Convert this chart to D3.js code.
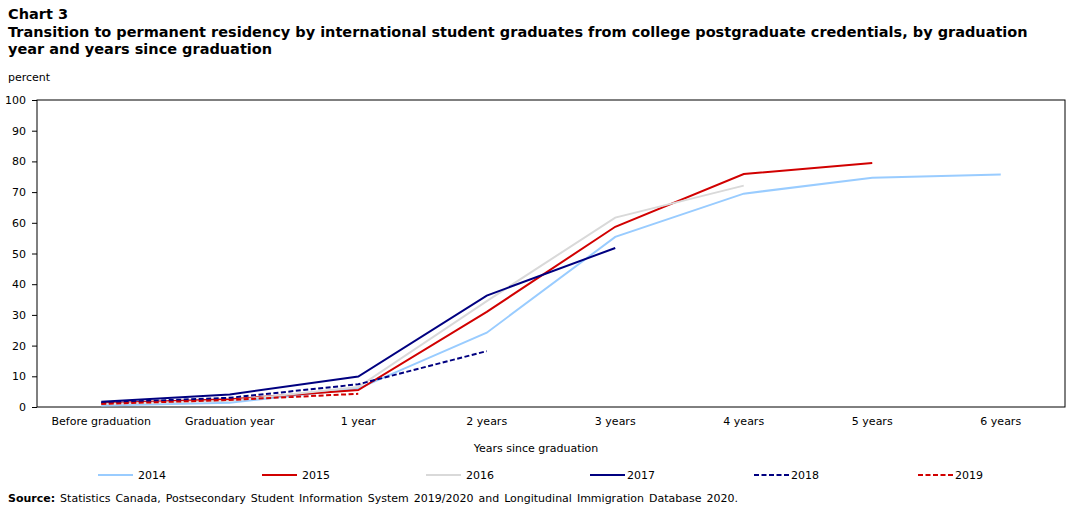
<!DOCTYPE html>
<html lang="en">
  <head>
    <meta charset="UTF-8" />
    <title>Chart 3</title>
    <script src="https://d3js.org/d3.v7.min.js"></script>
    <style>
      body { margin: 0; background: #fff; }
      text { font-family: "DejaVu Sans", Verdana, sans-serif; fill: #000; }
    </style>
  </head>

  <body>
    <svg width="1078" height="511"></svg>

    <script>
      // categories on the x axis
      const categories = ["Before graduation", "Graduation year", "1 year", "2 years", "3 years", "4 years", "5 years", "6 years"];
      const yTicks = [0, 10, 20, 30, 40, 50, 60, 70, 80, 90, 100];

      // series values (percent)
      const y2014 = [0.5, 1.4, 6.0, 24.2, 55.4, 69.5, 74.7, 75.7];
      const y2015 = [1.2, 2.5, 5.5, 31.0, 58.7, 75.9, 79.5];
      const y2016 = [1.0, 2.0, 6.5, 34.5, 61.7, 72.1];
      const y2017 = [1.7, 4.1, 9.9, 36.3, 51.8];
      const y2018 = [1.4, 3.0, 7.4, 18.2];
      const y2019 = [1.0, 2.3, 4.3];

      const series = [
        { name: "2014", values: y2014, color: "#99ccff", dash: null },
        { name: "2015", values: y2015, color: "#d10000", dash: null },
        { name: "2016", values: y2016, color: "#d9d9d9", dash: null },
        { name: "2017", values: y2017, color: "#000080", dash: null },
        { name: "2018", values: y2018, color: "#000080", dash: "5,2.5" },
        { name: "2019", values: y2019, color: "#d10000", dash: "5,2.5" }
      ];

      const svg = d3.select("svg");
      const margin = { left: 37, right: 13, top: 100, bottom: 104 };
      const width = 1078 - margin.left - margin.right;
      const height = 511 - margin.top - margin.bottom;

      // title
      const titleLines = [
        "Chart 3",
        "Transition to permanent residency by international student graduates from college postgraduate credentials, by graduation",
        "year and years since graduation"
      ];
      svg.selectAll("text.title")
        .data(titleLines)
        .enter()
        .append("text")
        .attr("class", "title")
        .attr("x", 8)
        .attr("y", (d, i) => 19 + i * 17.5)
        .style("font-weight", "bold").style("font-size", "14.5px")
        .text(d => d);

      svg.append("text").attr("x", 8).attr("y", 81)
        .style("font-size", "11px").text("percent");

      const g = svg.append("g").attr("transform", `translate(${margin.left},${margin.top})`);

      const x = d3.scaleBand().domain(categories).range([0, width]);
      const y = d3.scaleLinear().domain([0, 100]).range([height, 0]);

      // y axis
      const yAxis = g.append("g").call(d3.axisLeft(y).tickValues(yTicks).tickSize(5).tickPadding(6));
      yAxis.select(".domain").remove();
      yAxis.selectAll("text").style("font-size", "11px").attr("font-family", null);
      yAxis.selectAll("line").attr("stroke", "#000");

      // x axis labels
      const xAxis = g.append("g").attr("transform", `translate(0,${height})`)
        .call(d3.axisBottom(x).tickSize(0).tickPadding(10));
      xAxis.select(".domain").remove();
      xAxis.selectAll("text").style("font-size", "11px").attr("font-family", null);

      // plot frame
      g.append("rect").attr("width", width).attr("height", height)
        .attr("fill", "none").attr("stroke", "#000").attr("stroke-width", 1);

      const line = d3.line()
        .x((d, i) => x(categories[i]) + x.bandwidth() / 2)
        .y(d => y(d));

      g.selectAll("path.series")
        .data(series)
        .enter()
        .append("path")
        .attr("class", "series")
        .attr("d", d => line(d.values))
        .attr("fill", "none")
        .attr("stroke", d => d.color)
        .attr("stroke-width", 2)
        .attr("stroke-dasharray", d => d.dash);

      // x axis title
      svg.append("text").attr("x", 536).attr("y", 452)
        .attr("text-anchor", "middle").style("font-size", "11px")
        .text("Years since graduation");

      // legend
      const legend = svg.append("g").attr("transform", "translate(98,475)");
      const item = legend.selectAll("g")
        .data(series)
        .enter()
        .append("g")
        .attr("transform", (d, i) => `translate(${i * 164},0)`);
      item.append("line")
        .attr("x1", 0).attr("x2", 35)
        .attr("stroke", d => d.color).attr("stroke-width", 2)
        .attr("stroke-dasharray", d => d.dash);
      item.append("text").attr("x", (d, i) => i < 3 ? 40 : 37).attr("y", 4)
        .style("font-size", "11px").text(d => d.name);

      // source
      const src = svg.append("text").attr("x", 8).attr("y", 502).style("font-size", "11px")
        .style("word-spacing", "1.5px");
      src.append("tspan").style("font-weight", "bold").text("Source:");
      src.append("tspan").text(" Statistics Canada, Postsecondary Student Information System 2019/2020 and Longitudinal Immigration Database 2020.");
    </script>
  </body>
</html>
